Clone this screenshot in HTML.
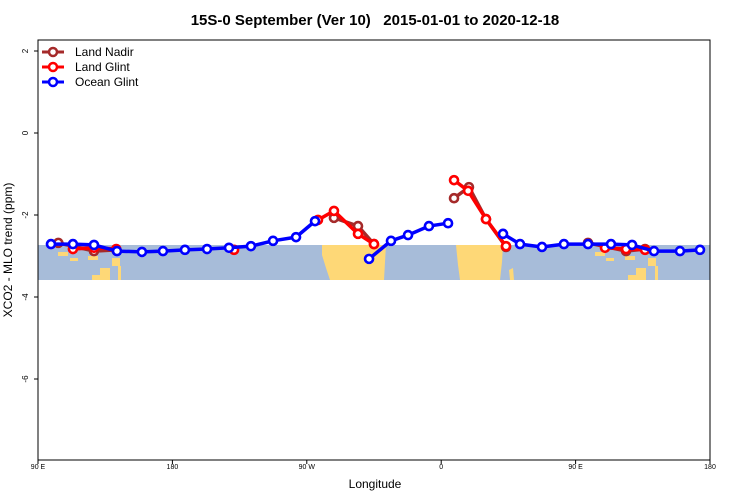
<!DOCTYPE html>
<html><head><meta charset="utf-8"><style>
body{margin:0;background:#fff;}
svg{display:block;font-family:"Liberation Sans",sans-serif;}
</style></head><body>
<svg id="chart" width="750" height="500">
<text x="375" y="25" text-anchor="middle" font-size="15" font-weight="bold" style="white-space:pre">15S-0 September (Ver 10)   2015-01-01 to 2020-12-18</text>
<g id="map">
<rect x="38" y="245" width="672" height="35" fill="#a7bcd9"/>
<polygon points="322,245 386,245 385,262 384,280 330,280 326,268 322,255" fill="#fed877"/>
<polygon points="456,245 503,245 502,262 500,280 460,280 458,265" fill="#fed877"/>
<polygon points="509,270 513,268 514,280 510,280" fill="#fed877"/>
<g fill="#fed877">
<rect x="58" y="252" width="10" height="4"/><rect x="70" y="258" width="8" height="3"/><rect x="88" y="256" width="10" height="4"/>
<rect x="100" y="268" width="10" height="12"/><rect x="92" y="275" width="8" height="5"/><rect x="112" y="258" width="8" height="8"/><rect x="118" y="266" width="3" height="14"/>
</g>
<g fill="#fed877">
<rect x="595" y="252" width="10" height="4"/><rect x="606" y="258" width="8" height="3"/><rect x="625" y="256" width="10" height="4"/>
<rect x="636" y="268" width="10" height="12"/><rect x="628" y="275" width="8" height="5"/><rect x="648" y="258" width="8" height="8"/><rect x="655" y="266" width="3" height="14"/>
</g>
</g>
<g id="axes"></g>
<g id="series"></g>
<rect x="38" y="40" width="672" height="420" fill="none" stroke="#000" stroke-width="1"/>
<text x="375" y="488" text-anchor="middle" font-size="12">Longitude</text>
<text transform="translate(12,250) rotate(-90)" text-anchor="middle" font-size="12">XCO2 - MLO trend (ppm)</text>
<g>
<g><line x1="42" x2="64" y1="52" y2="52" stroke="#a52a2a" stroke-width="3"/><circle cx="53" cy="52" r="4" fill="#fff" stroke="#a52a2a" stroke-width="2.5"/><text x="75" y="56" font-size="12">Land Nadir</text></g>
<g><line x1="42" x2="64" y1="67" y2="67" stroke="#ff0000" stroke-width="3"/><circle cx="53" cy="67" r="4" fill="#fff" stroke="#ff0000" stroke-width="2.5"/><text x="75" y="71" font-size="12">Land Glint</text></g>
<g><line x1="42" x2="64" y1="82" y2="82" stroke="#0000ff" stroke-width="3"/><circle cx="53" cy="82" r="4" fill="#fff" stroke="#0000ff" stroke-width="2.5"/><text x="75" y="86" font-size="12">Ocean Glint</text></g>
</g>
</svg>
<script>
const xTickVals=[90,180,270,360,450,540];
const xTickLabels=["90 E","180","90 W","0","90 E","180"];
const yTickVals=[2,0,-2,-4,-6];
const yTickLabels=["2","0","-2","-4","-6"];
// null = gap in line
const oceanLon=[98.7,113.4,127.5,142.9,159.6,173.7,188.4,203.2,217.9,232.6,247.4,262.8,275.5,null,311.7,326.4,337.8,351.8,364.6,null,401.4,412.8,427.5,442.2,458.3,473.7,487.8,502.5,519.9,533.3];
const oceanVal=[-2.71,-2.71,-2.73,-2.88,-2.90,-2.88,-2.85,-2.83,-2.80,-2.76,-2.63,-2.54,-2.15,null,-3.07,-2.63,-2.49,-2.27,-2.20,null,-2.46,-2.71,-2.78,-2.71,-2.71,-2.71,-2.73,-2.88,-2.88,-2.85];
const landGlintLon=[113.4,127.5,142.4,null,221.3,null,277.5,288.2,304.3,315.0,null,368.6,378.0,390.0,403.4,null,469.7,483.8,496.5];
const landGlintVal=[-2.83,-2.80,-2.83,null,-2.85,null,-2.12,-1.90,-2.46,-2.71,null,-1.15,-1.41,-2.10,-2.76,null,-2.80,-2.83,-2.85];
const landNadirLon=[103.6,127.5,142.4,null,288.2,304.3,315.0,null,368.6,378.6,390.0,403.4,null,458.3,483.8,496.5];
const landNadirVal=[-2.68,-2.88,-2.85,null,-2.07,-2.27,-2.71,null,-1.59,-1.32,-2.10,-2.78,null,-2.68,-2.88,-2.83];
const X=v=>38+(v-90)*672/450;
const Y=v=>133-v*41;
const NS="http://www.w3.org/2000/svg";
function mk(t,a,p){const e=document.createElementNS(NS,t);for(const k in a)e.setAttribute(k,a[k]);p.appendChild(e);return e;}
const ax=document.getElementById('axes');
xTickVals.forEach((v,i)=>{
 const l=mk('line',{x1:X(v),x2:X(v),y1:460,y2:464,stroke:'#000'},ax);
 
 
 const t=mk('text',{x:X(v),y:469,'text-anchor':'middle','font-size':7},ax);
 
 
 t.textContent=xTickLabels[i];
});
yTickVals.forEach((v,i)=>{
 const l=mk('line',{x1:34,x2:38,y1:Y(v),y2:Y(v),stroke:'#000'},ax);
 
 
 const t=mk('text',{transform:`translate(28,${Y(v)}) rotate(-90)`,'text-anchor':'middle','font-size':8},ax);
 
 
 t.textContent=yTickLabels[i];
});
const sg=document.getElementById('series');
function draw(lons,vals,color,name){
 const g=mk('g',{},sg);
 
 
 let segs=[[]];
 lons.forEach((l,i)=>{ if(l===null){segs.push([]);} else segs[segs.length-1].push(X(l)+','+Y(vals[i])); });
 segs.forEach(s=>{
  if(s.length<2) return;
  const pl=mk('polyline',{points:s.join(' '),fill:'none',stroke:color,'stroke-width':3.5,'stroke-linejoin':'round'},g);
  
  
 });
 lons.forEach((l,i)=>{
  if(l===null) return;
  const c=mk('circle',{cx:X(l),cy:Y(vals[i]),r:4,fill:'#fff',stroke:color,'stroke-width':2.6},g);
  
  
 });
}
draw(landNadirLon,landNadirVal,'#a52a2a','land-nadir-series');
draw(landGlintLon,landGlintVal,'#ff0000','land-glint-series');
draw(oceanLon,oceanVal,'#0000ff','ocean-glint-series');
</script>
</body></html>
